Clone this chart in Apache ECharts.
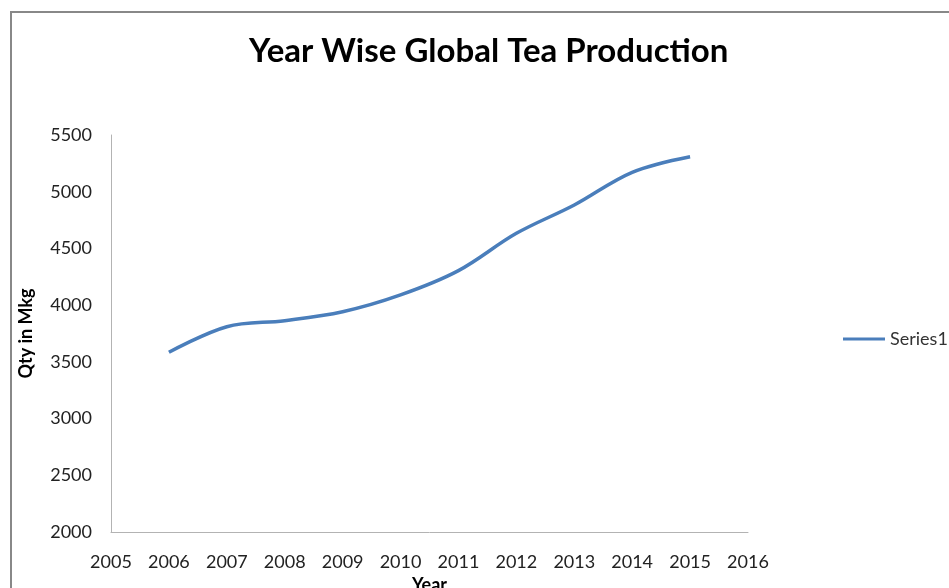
<!DOCTYPE html>
<html>
<head>
<meta charset="utf-8">
<script src="https://cdn.jsdelivr.net/npm/echarts@6/dist/echarts.min.js"></script>
<style>
  html, body { margin: 0; padding: 0; background: #fff; }
  #chart { width: 949px; height: 588px; }
</style>
</head>
<body>
<div id="chart"></div>
<script>
// data
const years = [2006, 2007, 2008, 2009, 2010, 2011, 2012, 2013, 2014, 2015];
const production = [3584, 3810, 3863, 3942, 4090, 4304, 4633, 4883, 5171, 5309];
const seriesName = "Series1";

const chart = echarts.init(document.getElementById("chart"));
const font = "Lato, 'Open Sans', sans-serif";

chart.setOption({
  animation: false,
  backgroundColor: "#fff",
  textStyle: { fontFamily: font },
  title: {
    text: "Year Wise Global Tea Production",
    left: 244,
    top: 30,
    textStyle: { fontSize: 33, fontWeight: "bold", color: "#000", fontFamily: font },
  },
  // chart frame
  graphic: [
    {
      type: "rect",
      shape: { x: 11, y: 12, width: 1000, height: 700 },
      style: { fill: null, stroke: "#888", lineWidth: 2 },
      silent: true,
    },
  ],
  legend: {
    data: [{ name: seriesName, icon: "rect" }],
    left: 838,
    top: 325,
    itemWidth: 42,
    itemHeight: 3,
    itemGap: 4,
    textStyle: { fontSize: 18, color: "#333", fontFamily: font },
  },
  grid: { left: 111, right: 201, top: 135, bottom: 56, outerBoundsMode: "none", containLabel: false },
  xAxis: {
    type: "value",
    min: 2005,
    max: 2016,
    interval: 1,
    name: "Year",
    nameLocation: "middle",
    nameGap: 36,
    nameTextStyle: { fontSize: 18, fontWeight: "bold", color: "#000" },
    axisLine: { lineStyle: { color: "#b3b3b3", width: 1 } },
    axisTick: { show: false },
    splitLine: { show: false },
    axisLabel: { fontSize: 18, color: "#222", margin: 21, formatter: (v) => String(v) },
  },
  yAxis: {
    type: "value",
    min: 2000,
    max: 5500,
    interval: 500,
    name: "Qty in Mkg",
    nameLocation: "middle",
    nameGap: 76,
    nameTextStyle: { fontSize: 18, fontWeight: "bold", color: "#000" },
    axisLine: { show: true, lineStyle: { color: "#b3b3b3", width: 1 } },
    axisTick: { show: false },
    splitLine: { show: false },
    axisLabel: { fontSize: 18, color: "#222", margin: 19, formatter: (v) => String(v) },
  },
  series: [
    {
      name: seriesName,
      type: "line",
      data: years.map((y, i) => [y, production[i]]),
      smooth: 0.35,
      symbol: "none",
      lineStyle: { color: "#4a7ebb", width: 3.5 },
      itemStyle: { color: "#4a7ebb" },
    },
  ],
});
</script>
</body>
</html>
